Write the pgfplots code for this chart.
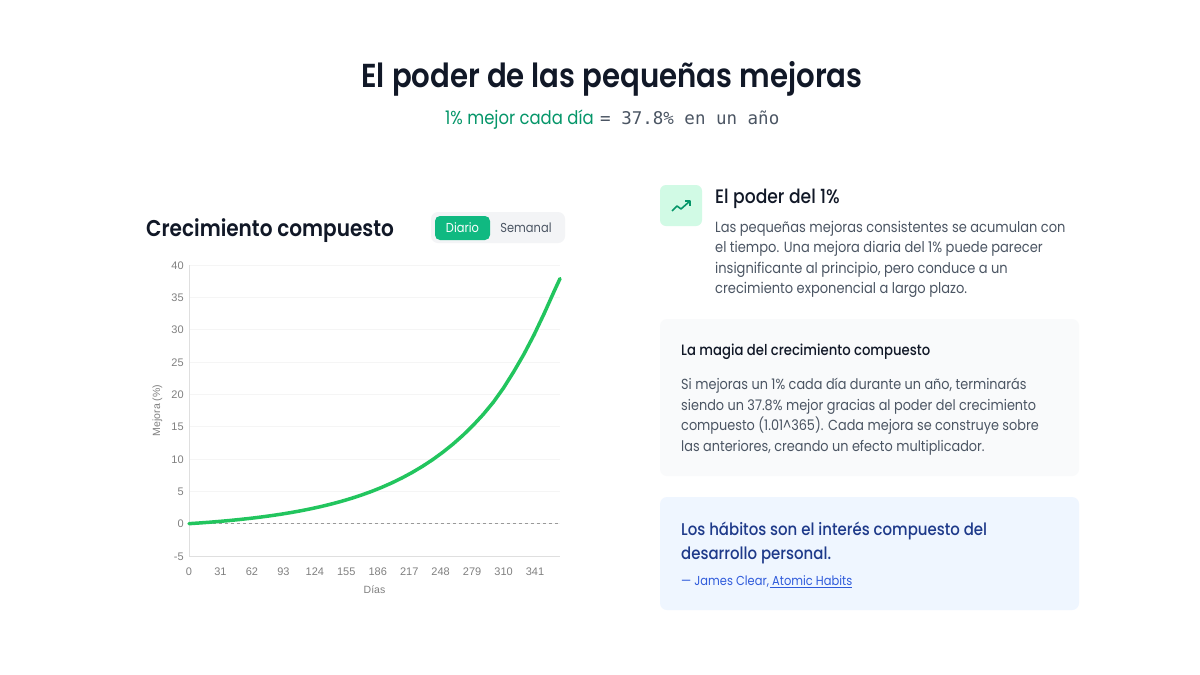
\documentclass[border=0pt]{standalone}
\usepackage{pgfplots}
\pgfplotsset{compat=1.18}
\usepackage{fontspec}
\setmainfont{Poppins}[FakeStretch=0.88]
\newfontfamily\chartfont{Liberation Sans}
\newfontfamily\monofont{DejaVu Sans Mono}
\newfontfamily\medfont{Poppins Medium}[FakeStretch=0.88]
\newfontfamily\semifont{Poppins SemiBold}[FakeStretch=0.88]
\definecolor{ink}{HTML}{111827}
\definecolor{body}{HTML}{4B5563}
\definecolor{grn}{HTML}{22C55E}
\definecolor{emer}{HTML}{10B981}
\definecolor{emerd}{HTML}{059669}
\definecolor{mint}{HTML}{D1FAE5}
\definecolor{panel}{HTML}{F9FAFB}
\definecolor{tog}{HTML}{F3F4F6}
\definecolor{blu}{HTML}{EFF6FF}
\definecolor{bluet}{HTML}{1E3A8A}
\definecolor{blul}{HTML}{2F5BDB}
\definecolor{axisgray}{HTML}{808080}
\begin{document}
\begin{tikzpicture}[x=1pt,y=-1pt,every node/.style={inner sep=0pt}]
\path[use as bounding box,fill=white] (0,0) rectangle (1200,675);
\node[anchor=base,font=\fontsize{33.2}{36}\selectfont\semifont,text=ink] at (612,87) {El poder de las pequeñas mejoras};
\node[anchor=base west,font=\fontsize{18.7}{20}\selectfont,text=emerd] at (445,124) {1\% mejor cada día};
\node[anchor=base west,font=\fontsize{17.5}{20}\selectfont\monofont,text=body] at (600,124) {= 37.8\% en un año};
\node[anchor=base west,font=\fontsize{22.8}{26}\selectfont\semifont,text=ink] at (146,236) {Crecimiento compuesto};
\fill[tog,rounded corners=7pt] (431,212) rectangle (565,243);
\fill[emer,rounded corners=5pt] (435,216) rectangle (490,240);
\node[font=\fontsize{13}{16}\selectfont,text=white] at (462.5,228) {Diario};
\node[font=\fontsize{13}{16}\selectfont,text=body] at (526,228) {Semanal};
\coordinate (A) at (189,556);
\begin{axis}[at={(A)},anchor=south west,
  scale only axis,width=371pt,height=291pt,
  xmin=0,xmax=365.6,ymin=-5,ymax=40,
  xtick={0,31,62,93,124,155,186,217,248,279,310,341},
  ytick={-5,0,5,10,15,20,25,30,35,40},
  axis x line=bottom,axis y line=left,axis line style={draw=gray!25,-},
  ymajorgrids,grid style={draw=gray!8,line width=0.8pt},
  tick style={draw=none},
  xlabel={Días},ylabel={Mejora (\%)},
  every axis label/.append style={font=\fontsize{10.5}{12}\selectfont\chartfont,text=axisgray},
  ticklabel style={font=\fontsize{11}{12}\selectfont\chartfont,text=axisgray},
  xticklabel style={text height=8pt,text depth=0pt,yshift=-9pt},
  yticklabel style={xshift=-3pt,yshift=-0.5pt},
  /pgf/number format/assume math mode=true,
  xlabel style={at={(axis description cs:0.5,0)},anchor=base,yshift=-37.5pt},
  ylabel style={at={(axis description cs:0,0.5)},anchor=base,yshift=29pt},
  clip=false]
\addplot[gray!80,dashed,line width=0.8pt] coordinates {(0,0) (365.6,0)};
\addplot[grn,line width=3.5pt,line cap=round,line join=round] coordinates {
(0,0)(10,0.105)(20,0.22)(30,0.348)(40,0.489)(50,0.645)(60,0.817)(70,1.007)(80,1.217)(90,1.449)(100,1.705)(110,1.988)(120,2.3)(130,2.646)(140,3.027)(150,3.448)(160,3.913)(170,4.427)(180,4.994)(190,5.621)(200,6.316)(210,7.081)(220,7.926)(230,8.859)(240,9.89)(250,11.03)(260,12.286)(270,13.677)(280,15.21)(290,16.904)(300,18.8)(310,21.0)(320,23.5)(330,26.2)(340,29.2)(350,32.5)(360,36.0)(365.6,37.9)
};
\end{axis}
\fill[mint,rounded corners=6pt] (660,185) rectangle (702,226);
\draw[emerd,line width=1.6pt,line join=round] (672,211) -- (677,206) -- (681,209) -- (690,201);
\draw[emerd,line width=1.6pt,line join=round] (685,201) -- (690,201) -- (690,206);
\node[anchor=base west,font=\fontsize{19.5}{22}\selectfont\medfont,text=ink] at (715,203) {El poder del 1\%};
\begin{scope}[every node/.style={inner sep=0pt,anchor=base west,font=\fontsize{14.8}{18}\selectfont,text=body}]
\node at (715,232) {Las pequeñas mejoras consistentes se acumulan con};
\node at (715,252) {el tiempo. Una mejora diaria del 1\% puede parecer};
\node at (715,273) {insignificante al principio, pero conduce a un};
\node at (715,293) {crecimiento exponencial a largo plazo.};
\end{scope}
\fill[panel,rounded corners=7pt] (660,319) rectangle (1079,476);
\node[anchor=base west,font=\fontsize{15}{18}\selectfont\medfont,text=ink] at (681,355) {La magia del crecimiento compuesto};
\begin{scope}[every node/.style={inner sep=0pt,anchor=base west,font=\fontsize{14.6}{18}\selectfont,text=body}]
\node at (681,389) {Si mejoras un 1\% cada día durante un año, terminarás};
\node at (681,410) {siendo un 37.8\% mejor gracias al poder del crecimiento};
\node at (681,430) {compuesto (1.01\^{}365). Cada mejora se construye sobre};
\node at (681,451) {las anteriores, creando un efecto multiplicador.};
\end{scope}
\fill[blu,rounded corners=7pt] (660,497) rectangle (1079,610);
\node[anchor=base west,font=\fontsize{17}{20}\selectfont\medfont,text=bluet] at (681,535) {Los hábitos son el interés compuesto del};
\node[anchor=base west,font=\fontsize{17}{20}\selectfont\medfont,text=bluet] at (681,559) {desarrollo personal.};
\node[anchor=base west,font=\fontsize{13}{16}\selectfont,text=blul] at (681,585) {— James Clear, Atomic Habits};
\draw[blul,line width=0.7pt] (769.5,587) -- (851.5,587);
\end{tikzpicture}
\end{document}
